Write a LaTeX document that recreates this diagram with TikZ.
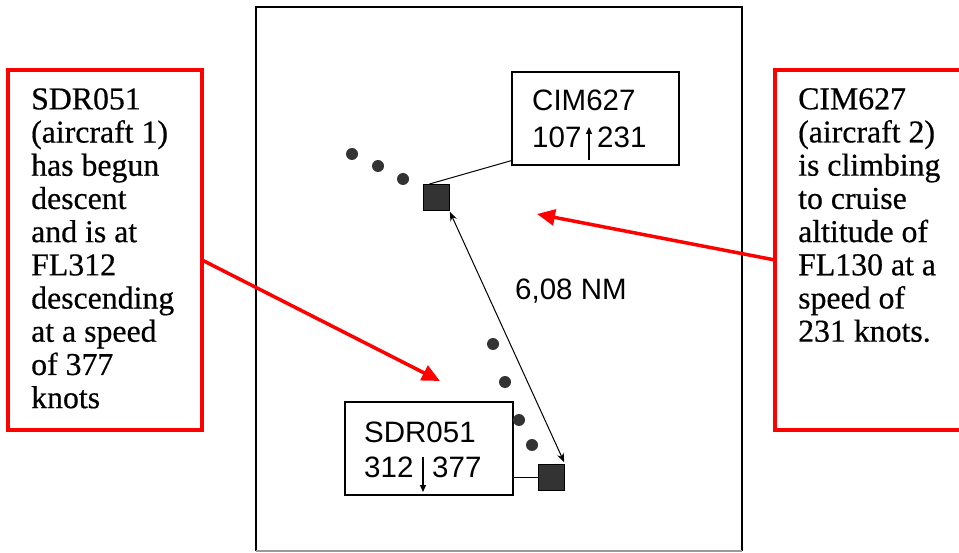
\documentclass[tikz,border=0pt]{standalone}
\usepackage{fontspec}
\setmainfont{Liberation Serif}
\newfontfamily\notefont[UprightFeatures={FakeBold=0.5}]{Liberation Serif}
\newfontfamily\radarfont{Liberation Sans}
\usetikzlibrary{arrows.meta,calc}
\begin{document}
\begin{tikzpicture}[x=1pt,y=-1pt,
  redbox/.style={draw=red, line width=3.5pt, inner sep=0pt},
  redarrow/.style={red, line width=3.5pt, -{Triangle[length=18pt,width=16pt]}},
  notetext/.style={anchor=north west, inner sep=0pt, align=left, font=\notefont\fontsize{31.8}{33.2}\selectfont},
  radartext/.style={anchor=base west, inner sep=0pt, font=\radarfont\fontsize{29.5}{29.5}\selectfont},
  labelbox/.style={draw, line width=1.2pt, inner sep=0pt},
  blip/.style={circle, fill=black!80, inner sep=0pt, minimum size=12pt},
  target/.style={draw=black, fill=black!80, line width=1pt, inner sep=0pt, minimum width=26pt, minimum height=26pt},
  trend/.style={line width=1.2pt, -{Triangle[length=7pt,width=6pt]}},
]
\useasboundingbox (0,0) rectangle (959,553);
\fill[white] (0,0) rectangle (959,553);
% radar frame
\draw[line width=2pt] (256,551) -- (256,7) -- (742,7) -- (742,551);
\draw[line width=1.5pt, black!40] (256,551) -- (742,551);
% label boxes
\node[labelbox, minimum width=167pt, minimum height=93pt] (cimbox) at (595.5,118.5) {};
\node[labelbox, minimum width=168pt, minimum height=93pt] (sdrbox) at (429,448.5) {};
\node[radartext] (cimname) at (532,111) {CIM627};
\node[radartext] (cimalt) at (532,148) {107};
\node[radartext] (cimspd) at (597,148) {231};
\draw[trend] (589,160) -- (589,127);
\node[radartext] (sdrname) at (364,442) {SDR051};
\node[radartext] (sdralt) at (364,477) {312};
\node[radartext] (sdrspd) at (432,477) {377};
\draw[trend] (423,457) -- (423,492);
% targets
\node[target] (sq1) at (436,197.5) {};
\node[target] (sq2) at (551.5,477.5) {};
% history dots
\node[blip] (d1) at (352,154) {};
\node[blip] (d2) at (378,166) {};
\node[blip] (d3) at (403,179) {};
\node[blip] (d4) at (493,344) {};
\node[blip] (d5) at (505,382) {};
\node[blip] (d6) at (519,420) {};
\node[blip] (d7) at (532,445) {};
% leaders
\draw[line width=1pt] ($(sq1.north west)+(7,0)$) -- ($(cimbox.south west)+(0,-5)$);
\draw[line width=1pt] (sq2.west) -- (sq2.west -| sdrbox.east);
% distance
\draw[line width=1pt, {Stealth[length=9pt,width=7pt]}-{Stealth[length=9pt,width=7pt]}, shorten <=1pt, shorten >=2pt] (sq1.south east) -- (sq2.north east);
\node[radartext] (dist) at (515,300) {6,08 NM};
% notes
\node[redbox, minimum width=194pt, minimum height=360pt] (lbox) at (105,250) {};
\node[redbox, minimum width=200pt, minimum height=360pt] (rbox) at (875,250) {};
\node[notetext] (ltext) at (31,88) {SDR051\\(aircraft 1)\\has begun\\descent\\and is at\\FL312\\descending\\at a speed\\of 377\\knots};
\node[notetext] (rtext) at (798,88) {CIM627\\(aircraft 2)\\is climbing\\to cruise\\altitude of\\FL130 at a\\speed of\\231 knots.};
\coordinate (lstart) at (202,260);
\coordinate (ltip) at (440,381);
\coordinate (rstart) at (775,260);
\coordinate (rtip) at (537,214);
\draw[redarrow] (lstart) -- (ltip);
\draw[redarrow] (rstart) -- (rtip);
\end{tikzpicture}
\end{document}
